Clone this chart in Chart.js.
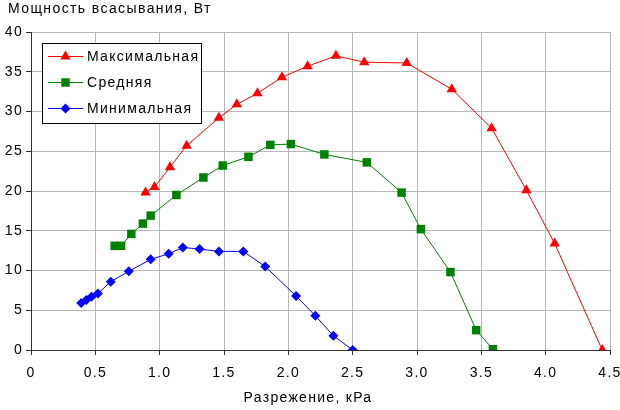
<!DOCTYPE html>
<html>
<head>
<meta charset="utf-8">
<script src="https://cdn.jsdelivr.net/npm/chart.js@4/dist/chart.umd.min.js"></script>
<style>
  body { margin: 0; background: #fff; }
  #wrap { width: 620px; height: 410px; }
</style>
</head>
<body>
<div id="wrap"><canvas id="chart" width="620" height="410"></canvas></div>
<script>
// suction power vs vacuum
const yTitle = 'Мощность всасывания, Вт';
const xTitle = 'Разрежение, кРа';
const seriesNames = ['Максимальная', 'Средняя', 'Минимальная'];

const maxX = [0.89, 0.96, 1.08, 1.21, 1.46, 1.60, 1.76, 1.95, 2.15, 2.37, 2.59, 2.92, 3.27, 3.58, 3.85, 4.07, 4.44];
const maxY = [19.8, 20.5, 23.0, 25.7, 29.2, 30.9, 32.3, 34.3, 35.7, 37.0, 36.2, 36.1, 32.8, 27.9, 20.1, 13.4, 0];

const avgX = [0.65, 0.70, 0.78, 0.87, 0.93, 1.13, 1.34, 1.49, 1.69, 1.86, 2.02, 2.28, 2.61, 2.88, 3.03, 3.26, 3.46, 3.59];
const avgY = [13.1, 13.1, 14.6, 15.9, 16.9, 19.5, 21.7, 23.2, 24.3, 25.8, 25.9, 24.6, 23.6, 19.8, 15.2, 9.8, 2.5, 0.1];

const minX = [0.39, 0.43, 0.47, 0.52, 0.62, 0.76, 0.93, 1.07, 1.18, 1.31, 1.46, 1.65, 1.82, 2.06, 2.21, 2.35, 2.50];
const minY = [5.9, 6.3, 6.7, 7.1, 8.6, 9.9, 11.4, 12.1, 12.9, 12.7, 12.4, 12.4, 10.5, 6.8, 4.3, 1.8, 0];

const FONT = 'Liberation Sans, Arial, sans-serif';
const SPACING = '1.3px';

function pts(xs, ys) {
    return xs.map((x, i) => ({ x: x, y: ys[i] }));
}

function makeSet(label, xs, ys, color, style, radius) {
    return {
        label: label,
        data: pts(xs, ys),
        showLine: true,
        borderColor: color,
        backgroundColor: color,
        borderWidth: 1,
        pointStyle: style,
        pointRadius: radius,
        pointBorderWidth: 0,
        pointBackgroundColor: color
    };
}

// wider text like the original
const spacing = {
    id: 'spacing',
    beforeUpdate(chart) { chart.ctx.letterSpacing = SPACING; },
    beforeDraw(chart) { chart.ctx.letterSpacing = SPACING; }
};

// titles and boxed legend inside the plot
const decor = {
    id: 'decor',
    afterDraw(chart) {
        const ctx = chart.ctx;
        ctx.save();
        ctx.font = '14px ' + FONT;
        ctx.fillStyle = '#000';
        ctx.textBaseline = 'middle';
        ctx.textAlign = 'left';
        ctx.letterSpacing = '1.4px';
        ctx.fillText(yTitle, 8, 9);
        ctx.letterSpacing = SPACING;
        ctx.textAlign = 'center';
        ctx.fillText(xTitle, 308, 398);

        // legend box
        ctx.fillStyle = '#fff';
        ctx.fillRect(42, 43, 159, 80);
        ctx.strokeStyle = '#000';
        ctx.lineWidth = 1;
        ctx.strokeRect(42.5, 43.5, 159, 80);

        const rows = [56, 82, 108];
        chart.data.datasets.forEach((ds, i) => {
            const y = rows[i];
            ctx.strokeStyle = ds.borderColor;
            ctx.beginPath();
            ctx.moveTo(48, y + 0.5);
            ctx.lineTo(83, y + 0.5);
            ctx.stroke();
            ctx.fillStyle = ds.pointBackgroundColor;
            Chart.helpers.drawPoint(ctx, {
                pointStyle: ds.pointStyle,
                radius: ds.pointRadius,
                rotation: 0,
                borderWidth: 0
            }, 65.5, y + 0.5);
            ctx.fillStyle = '#000';
            ctx.textAlign = 'left';
            ctx.fillText(ds.label, 87, y + 1);
        });
        ctx.restore();
    }
};

new Chart(document.getElementById('chart'), {
    type: 'scatter',
    data: {
        datasets: [
            makeSet(seriesNames[0], maxX, maxY, '#ff0000', 'triangle', 6),
            makeSet(seriesNames[1], avgX, avgY, '#008000', 'rect', 6),
            makeSet(seriesNames[2], minX, minY, '#0000ff', 'rectRot', 5)
        ]
    },
    options: {
        responsive: false,
        animation: false,
        layout: { padding: { top: 32, right: 10, left: 0, bottom: 0 } },
        plugins: {
            legend: { display: false },
            tooltip: { enabled: false }
        },
        scales: {
            x: {
                type: 'linear',
                min: 0,
                max: 4.5,
                afterFit: s => { s.height = 60; s.paddingLeft = 0; s.paddingRight = 0; },
                ticks: {
                    stepSize: 0.5,
                    padding: 10,
                    color: '#000',
                    font: { family: FONT, size: 14 },
                    maxRotation: 0
                },
                grid: { color: '#b8b8b8', tickColor: '#333', tickLength: 5 },
                border: { color: '#333', width: 1 }
            },
            y: {
                min: 0,
                max: 40,
                afterFit: s => { s.width = 31; s.paddingTop = 0; s.paddingBottom = 0; },
                ticks: {
                    stepSize: 5,
                    padding: 3,
                    color: '#000',
                    font: { family: FONT, size: 14 }
                },
                grid: { color: '#b8b8b8', tickColor: '#333', tickLength: 5 },
                border: { color: '#333', width: 1 }
            }
        }
    },
    plugins: [spacing, decor]
});
</script>
</body>
</html>
